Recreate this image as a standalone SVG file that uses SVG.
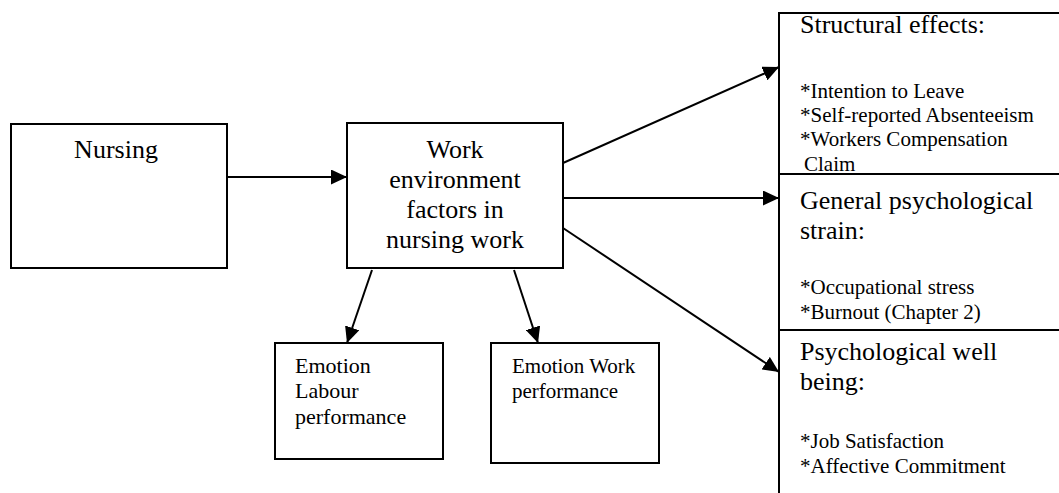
<svg xmlns="http://www.w3.org/2000/svg" width="1059" height="493" viewBox="0 0 1059 493">
<style>
.box{fill:#fff;stroke:#000;stroke-width:2}
.t{font-family:"Liberation Serif","Times New Roman",serif;fill:#000}
.big{font-size:26px}
.sm{font-size:21px}
.md{font-size:22px}
.c{stroke:#000;stroke-width:2;fill:none}
</style>
<defs>
<marker id="ah" markerUnits="userSpaceOnUse" markerWidth="17" markerHeight="15" refX="16" refY="7.5" orient="auto">
<path d="M0,0 L16,7.5 L0,15 z" fill="#000"/>
</marker>
</defs>
<g id="nursing">
<rect class="box" x="11" y="124" width="216" height="144"/>
<text class="t big" x="116" y="158" text-anchor="middle">Nursing</text>
</g>
<g id="work">
<rect class="box" x="347" y="123" width="216" height="145"/>
<text class="t big" text-anchor="middle"><tspan x="455" y="158">Work</tspan><tspan x="455" y="188">environment</tspan><tspan x="455" y="218">factors in</tspan><tspan x="455" y="248">nursing work</tspan></text>
</g>
<g id="labour">
<rect class="box" x="275" y="343" width="168" height="116"/>
<text class="t md"><tspan x="295" y="373">Emotion</tspan><tspan x="295" y="398">Labour</tspan><tspan x="295" y="424">performance</tspan></text>
</g>
<g id="emowork">
<rect class="box" x="491" y="343" width="168" height="120"/>
<text class="t sm"><tspan x="512" y="373">Emotion Work</tspan><tspan x="512" y="398">performance</tspan></text>
</g>
<g id="structural">
<rect class="box" x="779" y="13" width="300" height="161"/>
<text class="t big" x="800" y="33">Structural effects:</text>
<text class="t sm"><tspan x="800" y="98">*Intention to Leave</tspan><tspan x="800" y="122">*Self-reported Absenteeism</tspan><tspan x="800" y="146">*Workers Compensation</tspan><tspan x="804" y="171">Claim</tspan></text>
</g>
<g id="general">
<rect class="box" x="779" y="174" width="300" height="156"/>
<text class="t big"><tspan x="800" y="209">General psychological</tspan><tspan x="800" y="239">strain:</tspan></text>
<text class="t sm"><tspan x="800" y="294">*Occupational stress</tspan><tspan x="800" y="319">*Burnout (Chapter 2)</tspan></text>
</g>
<g id="wellbeing">
<rect class="box" x="779" y="330" width="300" height="200"/>
<text class="t big"><tspan x="800" y="360">Psychological well</tspan><tspan x="800" y="390">being:</tspan></text>
<text class="t sm"><tspan x="800" y="448">*Job Satisfaction</tspan><tspan x="800" y="473">*Affective Commitment</tspan></text>
</g>
<g id="connectors">
<line class="c" x1="227" y1="177" x2="347" y2="177" marker-end="url(#ah)"/>
<line class="c" x1="563" y1="163" x2="779" y2="67" marker-end="url(#ah)"/>
<line class="c" x1="563" y1="198" x2="779" y2="198" marker-end="url(#ah)"/>
<line class="c" x1="563" y1="228" x2="779" y2="372" marker-end="url(#ah)"/>
<line class="c" x1="372" y1="270" x2="347" y2="343" marker-end="url(#ah)"/>
<line class="c" x1="514" y1="270" x2="538" y2="343" marker-end="url(#ah)"/>
</g>
</svg>
